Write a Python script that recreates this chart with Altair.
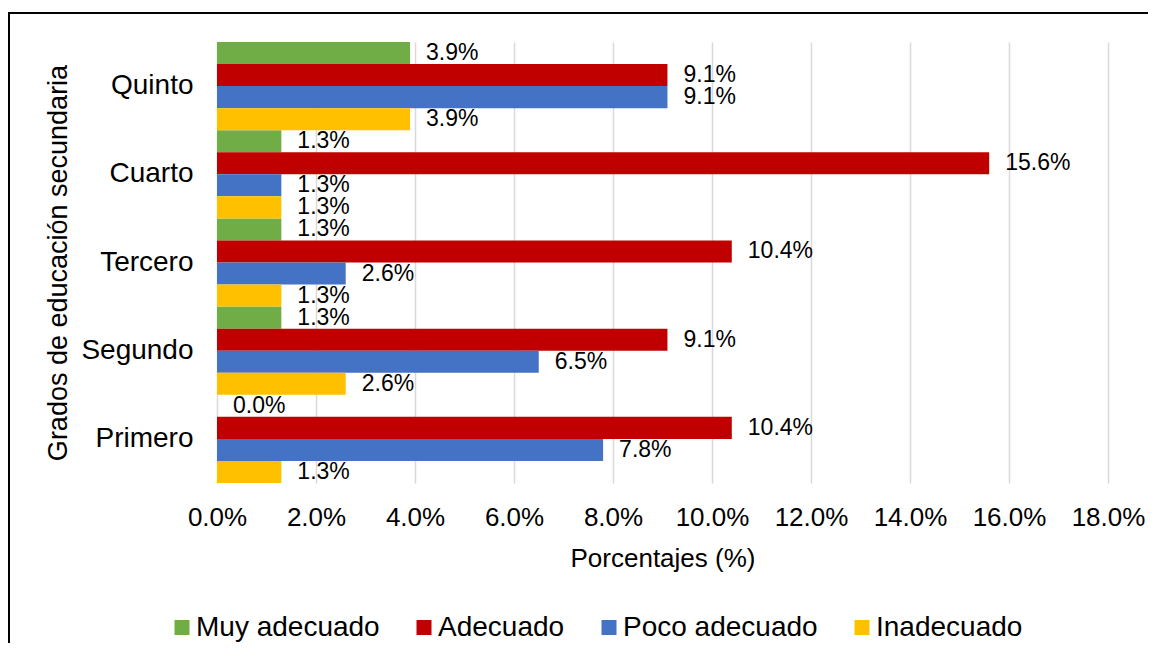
import altair as alt
import pandas as pd

# --- data ---
grados = ["Quinto", "Cuarto", "Tercero", "Segundo", "Primero"]
niveles = ["Muy adecuado", "Adecuado", "Poco adecuado", "Inadecuado"]
colores = ["#70AD47", "#C00000", "#4472C4", "#FFC000"]
muy_adecuado = [3.9, 1.3, 1.3, 1.3, 0.0]
adecuado = [9.1, 15.6, 10.4, 9.1, 10.4]
poco_adecuado = [9.1, 1.3, 2.6, 6.5, 7.8]
inadecuado = [3.9, 1.3, 1.3, 2.6, 1.3]
x_ticks = [0, 2, 4, 6, 8, 10, 12, 14, 16, 18]

series = [muy_adecuado, adecuado, poco_adecuado, inadecuado]
rows = []
for nivel, vals in zip(niveles, series):
    for g, v in zip(grados, vals):
        rows.append({"grado": g, "nivel": nivel, "valor": v, "etiqueta": f"{v:.1f}%"})
df = pd.DataFrame(rows)

FONT = "Liberation Sans"

y_enc = alt.Y(
    "grado:N",
    sort=grados,
    scale=alt.Scale(paddingInner=0, paddingOuter=0),
    axis=alt.Axis(
        title="Grados de educación secundaria",
        labelFont=FONT, labelFontSize=28, labelColor="black",
        titleFont=FONT, titleFontSize=27, titleFontWeight="normal", titleColor="black",
        domain=False, ticks=False, grid=False, labelPadding=24,
        titleAngle=270, titleX=-151, titleY=220.5,
        titleAlign="center", titleBaseline="alphabetic",
    ),
)
yoff_enc = alt.YOffset("nivel:N", sort=niveles, scale=alt.Scale(paddingInner=0, paddingOuter=0))
x_enc = alt.X(
    "valor:Q",
    scale=alt.Scale(domain=[0, 18], nice=False, zero=True),
    axis=alt.Axis(
        values=x_ticks,
        labelExpr="format(datum.value, '.1f') + '%'",
        title="Porcentajes (%)",
        labelFont=FONT, labelFontSize=26, labelColor="black",
        titleFont=FONT, titleFontSize=26, titleFontWeight="normal", titleColor="black",
        grid=True, gridColor="#d9d9d9", gridWidth=1.5,
        domain=False, ticks=False, labelPadding=21, labelBaseline="top",
        labelFlush=False, labelOverlap=False,
        titleY=83, titleBaseline="alphabetic",
    ),
)

base = alt.Chart(df)
bars = base.mark_bar().encode(
    y=y_enc,
    yOffset=yoff_enc,
    x=x_enc,
    color=alt.Color(
        "nivel:N",
        sort=niveles,
        scale=alt.Scale(domain=niveles, range=colores),
        legend=alt.Legend(
            title=None, orient="none", direction="horizontal", columns=4,
            legendX=-49, legendY=571.5, padding=0,
            symbolType="square", symbolSize=225, symbolStrokeWidth=0,
            labelFont=FONT, labelFontSize=28, labelColor="black", labelLimit=400,
            labelOffset=0, columnPadding=30, gridAlign="each",
        ),
    ),
)
labels = base.mark_text(
    align="left", baseline="middle", dx=16, fontSize=23, font=FONT, color="black"
).encode(y=y_enc, yOffset=yoff_enc, x=x_enc, text="etiqueta:N")

borde = pd.DataFrame({"k": [0]})
top_line = alt.Chart(borde).mark_rule(color="black", strokeWidth=2).encode(
    x=alt.value(-208), x2=alt.value(960), y=alt.value(-29)
)
left_line = alt.Chart(borde).mark_rule(color="black", strokeWidth=2).encode(
    x=alt.value(-208), y=alt.value(-30), y2=alt.value(630)
)

chart = (
    alt.layer(bars, labels, top_line, left_line)
    .properties(
        width=891,
        height=441,
        autosize=alt.AutoSizeParams(type="none"),
        padding={"left": 209, "top": 34, "right": 40, "bottom": 160},
        background="white",
    )
    .configure_view(stroke=None)
)

chart.save("out.html", embed_options={"renderer": "svg", "actions": False})
